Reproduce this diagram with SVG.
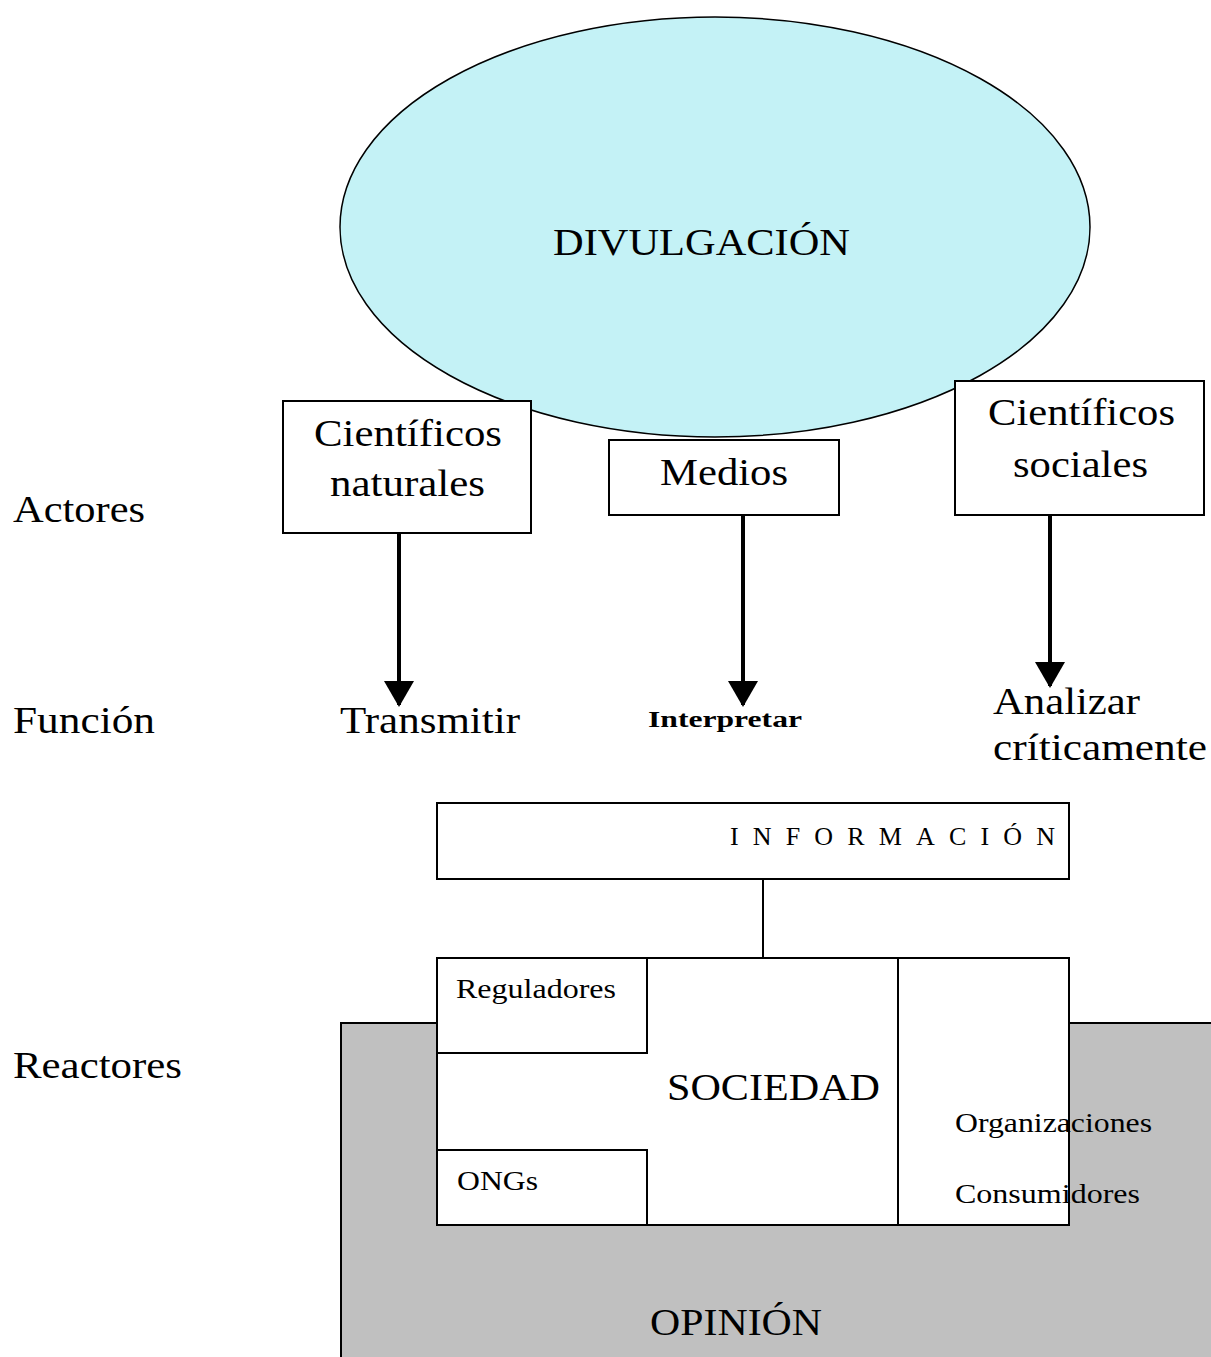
<svg xmlns="http://www.w3.org/2000/svg" width="1211" height="1357" viewBox="0 0 1211 1357">
<style>
text{font-family:"Liberation Serif","Times New Roman",serif;fill:#000}
.box{fill:#fff;stroke:#000;stroke-width:2}
.conn{stroke:#000;stroke-width:4;fill:none}
.lbl{font-size:38px}
.sm{font-size:27px}
</style>
<defs>
<marker id="ah" markerUnits="userSpaceOnUse" markerWidth="26" markerHeight="30" refX="24" refY="15" orient="auto" viewBox="0 0 26 30">
<path d="M0,0 L26,15 L0,30 Z" fill="#000"/>
</marker>
</defs>
<rect width="1211" height="1357" fill="#fff"/>
<g id="opinion">
<rect x="341" y="1023" width="880" height="350" fill="#c0c0c0" stroke="#000" stroke-width="2"/>
<text x="736" y="1335" class="lbl" text-anchor="middle" textLength="172" lengthAdjust="spacingAndGlyphs">OPINIÓN</text>
</g>
<g id="divulgacion">
<ellipse cx="715" cy="227" rx="375" ry="210" fill="#c4f2f6" stroke="#000" stroke-width="1.5"/>
<text x="553" y="255" class="lbl" textLength="297" lengthAdjust="spacingAndGlyphs">DIVULGACIÓN</text>
</g>
<g id="labels">
<text x="13" y="522" class="lbl" textLength="132" lengthAdjust="spacingAndGlyphs">Actores</text>
<text x="13" y="733" class="lbl" textLength="142" lengthAdjust="spacingAndGlyphs">Función</text>
<text x="13" y="1078" class="lbl" textLength="169" lengthAdjust="spacingAndGlyphs">Reactores</text>
</g>
<g id="cientificos-naturales">
<rect x="283" y="401" width="248" height="132" class="box"/>
<text x="314" y="446" class="lbl" textLength="188" lengthAdjust="spacingAndGlyphs">Científicos</text>
<text x="330" y="496" class="lbl" textLength="155" lengthAdjust="spacingAndGlyphs">naturales</text>
</g>
<g id="medios">
<rect x="609" y="440" width="230" height="75" class="box"/>
<text x="660" y="485" class="lbl" textLength="128" lengthAdjust="spacingAndGlyphs">Medios</text>
</g>
<g id="cientificos-sociales">
<rect x="955" y="381" width="249" height="134" class="box"/>
<text x="988" y="425" class="lbl" textLength="187" lengthAdjust="spacingAndGlyphs">Científicos</text>
<text x="1013" y="477" class="lbl" textLength="135" lengthAdjust="spacingAndGlyphs">sociales</text>
</g>
<g id="transmitir"><text x="340" y="733" class="lbl" textLength="180" lengthAdjust="spacingAndGlyphs">Transmitir</text></g>
<g id="interpretar"><text x="648" y="727" font-size="24" font-weight="bold" textLength="154" lengthAdjust="spacingAndGlyphs">Interpretar</text></g>
<g id="analizar">
<text x="993" y="714" class="lbl" textLength="147" lengthAdjust="spacingAndGlyphs">Analizar</text>
<text x="993" y="760" class="lbl" textLength="214" lengthAdjust="spacingAndGlyphs">críticamente</text>
</g>
<g id="informacion">
<rect x="437" y="803" width="632" height="76" class="box"/>
<text x="730" y="845" font-size="26" textLength="325" lengthAdjust="spacing">INFORMACIÓN</text>
</g>
<g id="sociedad">
<rect x="437" y="958" width="632" height="267" class="box"/>
<line x1="898" y1="958" x2="898" y2="1225" stroke="#000" stroke-width="2"/>
<text x="667" y="1100" class="lbl" textLength="213" lengthAdjust="spacingAndGlyphs">SOCIEDAD</text>
<text x="955" y="1132" class="sm" textLength="197" lengthAdjust="spacingAndGlyphs">Organizaciones</text>
<text x="955" y="1203" class="sm" textLength="185" lengthAdjust="spacingAndGlyphs">Consumidores</text>
</g>
<g id="reguladores">
<rect x="437" y="958" width="210" height="95" class="box"/>
<text x="456" y="998" class="sm" textLength="160" lengthAdjust="spacingAndGlyphs">Reguladores</text>
</g>
<g id="ongs">
<rect x="437" y="1150" width="210" height="75" class="box"/>
<text x="457" y="1190" class="sm" textLength="81" lengthAdjust="spacingAndGlyphs">ONGs</text>
</g>
<g id="connectors">
<line x1="399" y1="533" x2="399" y2="705" class="conn" marker-end="url(#ah)"/>
<line x1="743" y1="515" x2="743" y2="705" class="conn" marker-end="url(#ah)"/>
<line x1="1050" y1="515" x2="1050" y2="686" class="conn" marker-end="url(#ah)"/>
<line x1="763" y1="879" x2="763" y2="958" stroke="#000" stroke-width="2"/>
</g>
</svg>
